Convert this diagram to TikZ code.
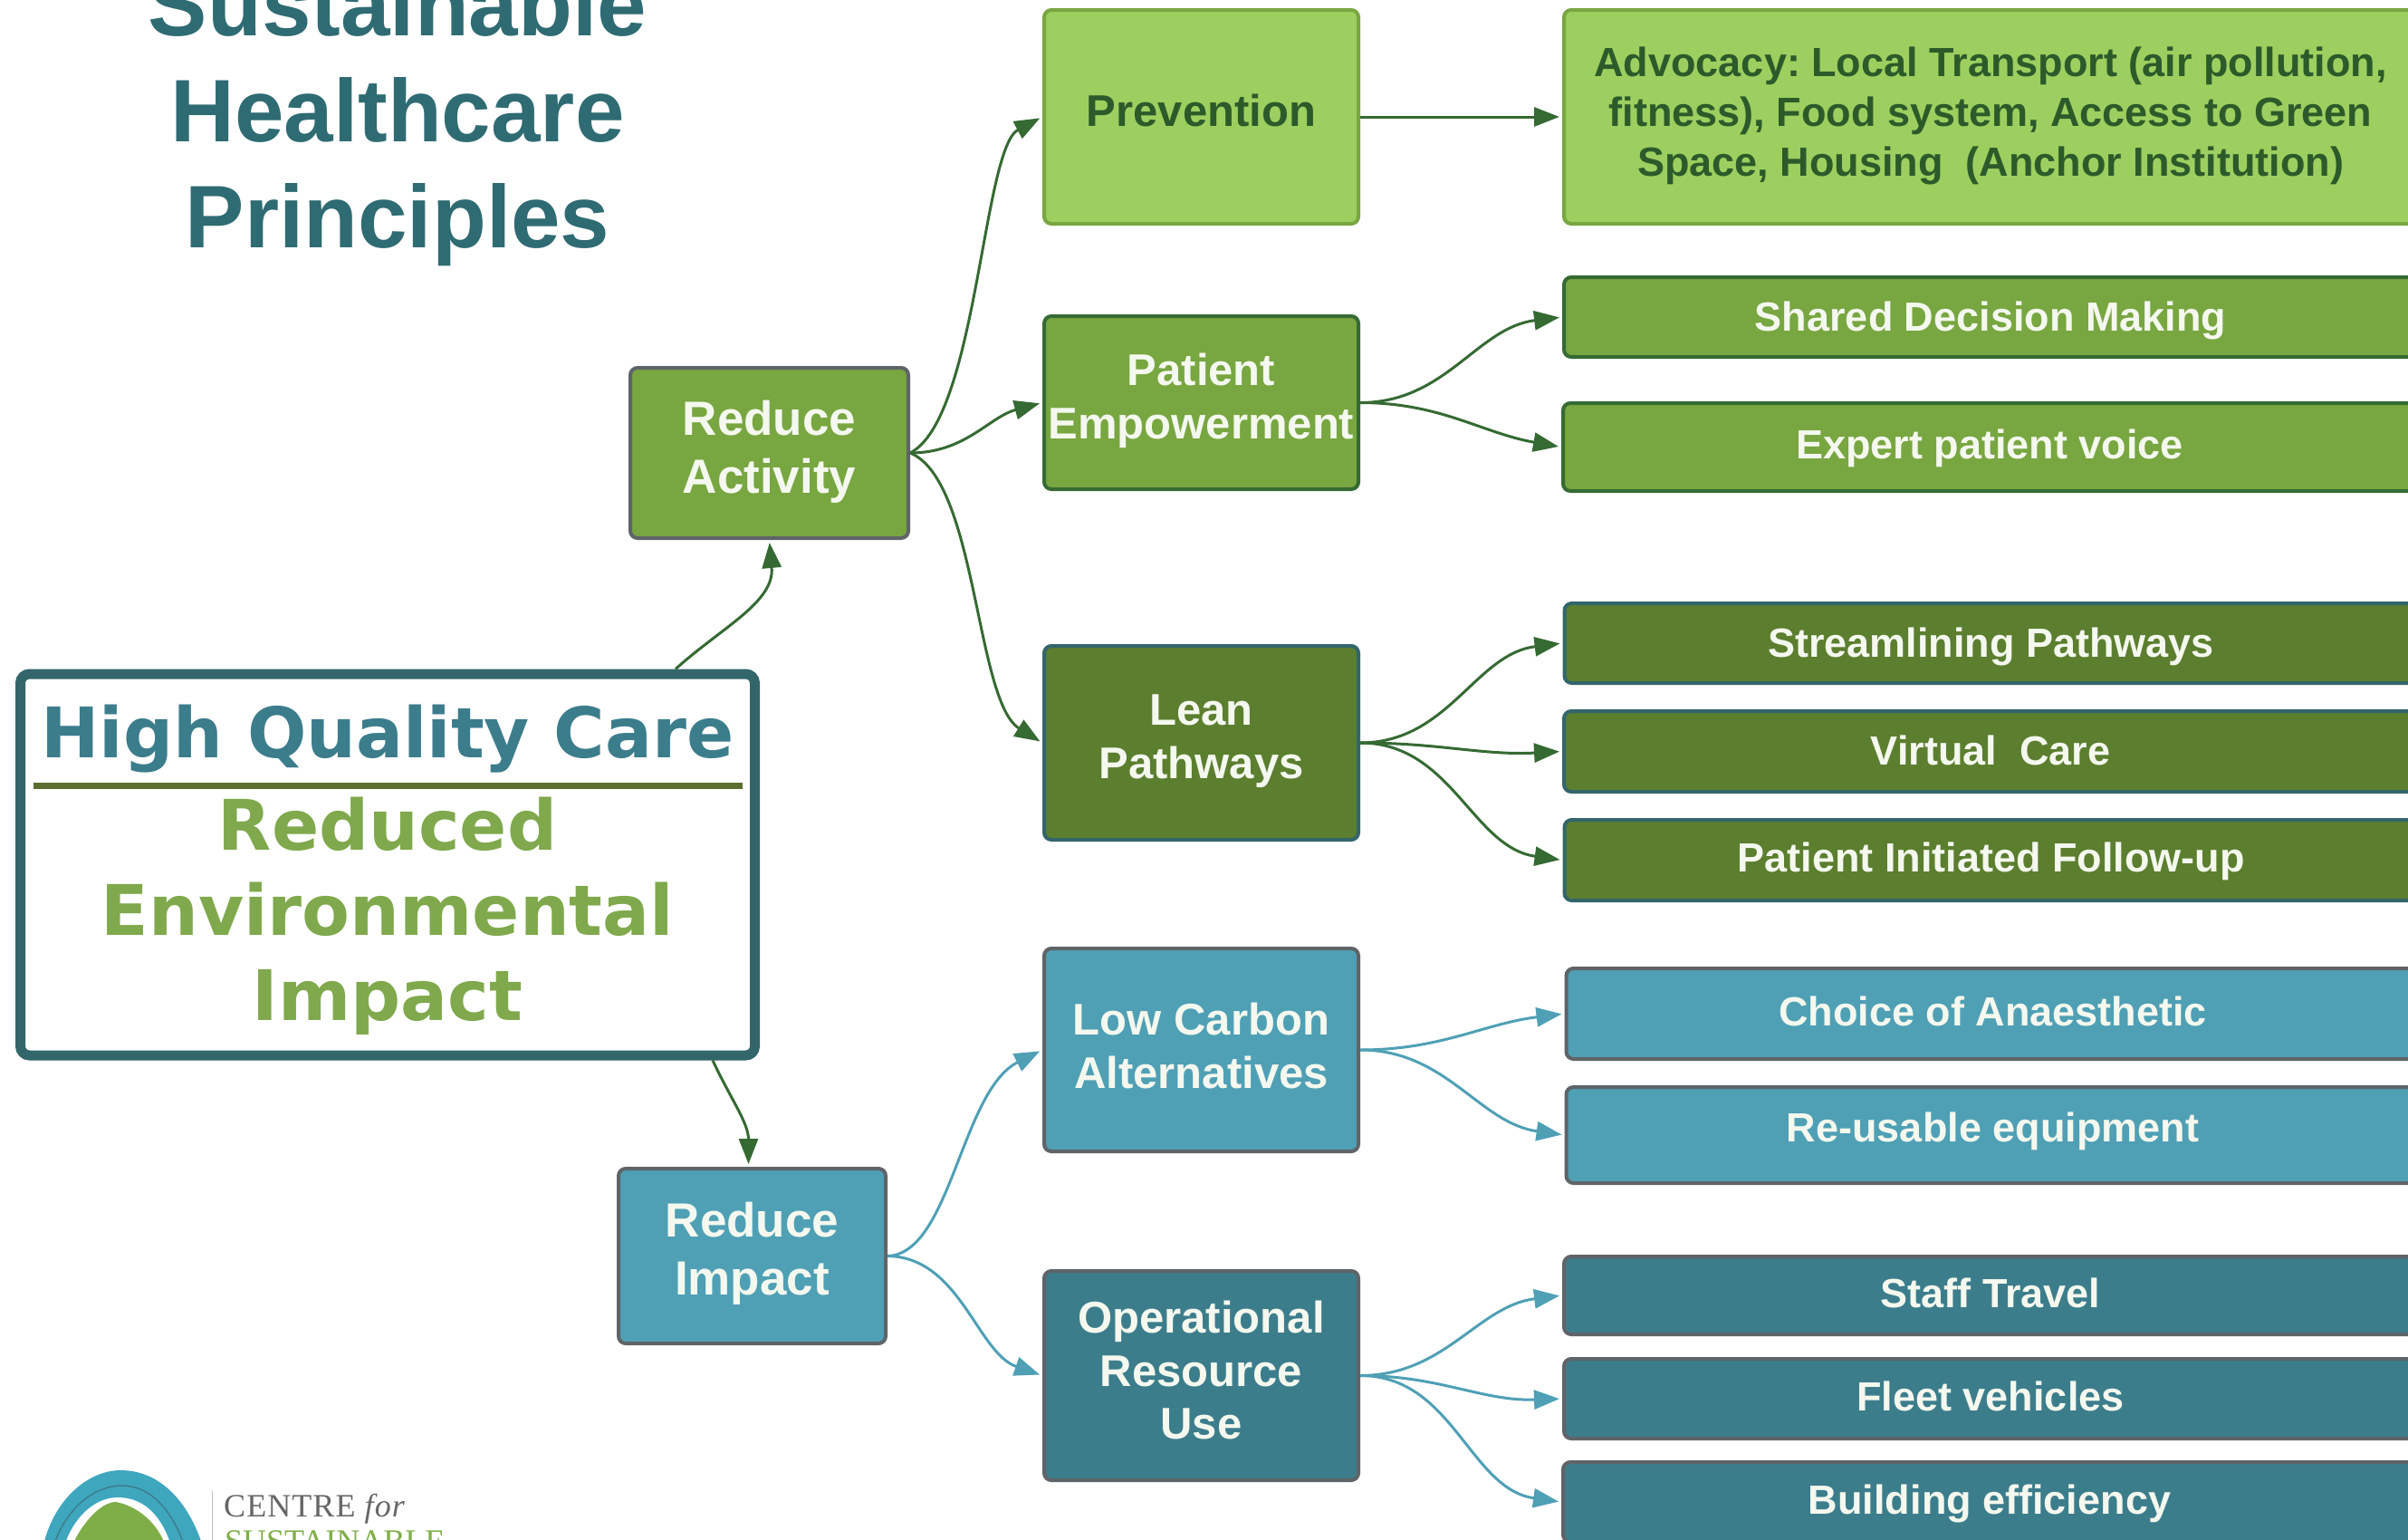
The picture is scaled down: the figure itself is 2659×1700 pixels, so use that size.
\documentclass[tikz,border=0pt]{standalone}
\usepackage{fontspec}
\setmainfont{Liberation Sans}
\newfontfamily\hqfont{DejaVu Sans}
\newfontfamily\logofont{Liberation Serif}
\usetikzlibrary{arrows.meta}
\definecolor{titleteal}{HTML}{2F6B73}
\definecolor{frameteal}{HTML}{33666B}
\definecolor{leafdark}{HTML}{2C5A2A}
\definecolor{linegreen}{HTML}{356A33}
\definecolor{lightgreen}{HTML}{9CCF5F}
\definecolor{midgreen}{HTML}{78A640}
\definecolor{hqgreen}{HTML}{7FA94C}
\definecolor{rulegreen}{HTML}{5A6E2E}
\definecolor{darkgreen}{HTML}{5C7E2F}
\definecolor{lightblue}{HTML}{4FA0B5}
\definecolor{darkblue}{HTML}{3C7D8C}
\definecolor{softwhite}{HTML}{F4F8EE}
\definecolor{greyline}{HTML}{5F6468}
\definecolor{logoteal}{HTML}{3FA7BD}
\definecolor{logogreen}{HTML}{7FAE48}
\tikzstyle{box} = [rectangle, rounded corners=8pt, line width=4pt, inner sep=0pt, align=center, text=softwhite, font=\frenchspacing\bfseries\fontsize{49}{58.5}\selectfont]
\tikzstyle{parent} = [box, font=\bfseries\fontsize{53}{64}\selectfont, draw=greyline]
\tikzstyle{level} = [box, minimum width=347pt]
\tikzstyle{leaf} = [box, minimum width=942pt, font=\frenchspacing\bfseries\fontsize{45}{55}\selectfont]
\tikzstyle{arrow} = [line width=3pt, linegreen, ->, >={Triangle[length=28pt, width=21pt]}, shorten >=3pt]
\tikzstyle{bluearrow} = [arrow, lightblue]
\newcommand{\padbottom}[1]{\rule[-#1pt]{0pt}{1pt}}
\newcommand{\padtop}[1]{\rule{0pt}{#1pt}}
\begin{document}
\begin{tikzpicture}[x=1pt, y=-1pt, node distance=0pt]
		\useasboundingbox (0,0) rectangle (2659,1700);
		% logo
		\fill [logoteal] (47,1710) .. controls (58,1655) and (98,1623) .. (133,1623) .. controls (175,1623) and (208,1655) .. (225,1710);
		\draw [darkblue, line width=1.5pt] (58,1710) .. controls (70,1670) and (100,1640) .. (135,1640) .. controls (165,1640) and (190,1665) .. (205,1710);
		\fill [white] (70,1710) .. controls (80,1675) and (105,1653) .. (130,1653) .. controls (160,1653) and (180,1675) .. (190,1710);
		\fill [logogreen] (78,1710) .. controls (88,1685) and (110,1658) .. (128,1658) .. controls (150,1662) and (175,1680) .. (184,1710);
		\node (logoline) [minimum width=1pt, minimum height=60pt, inner sep=0pt, fill=black!25] at (234,1675) {};
		\node (centre) [right of=logoline, xshift=13pt, yshift=9pt, anchor=west, inner sep=0pt, text=black!60, font=\logofont\fontsize{36}{36}\selectfont] {\addfontfeatures{LetterSpace=3}CENTRE \textit{for}};
		\node (sustainable) [right of=logoline, xshift=14pt, yshift=-27pt, anchor=west, inner sep=0pt, text=logogreen, font=\logofont\fontsize{36}{36}\selectfont] {SUSTAINABLE};

		\node (hq) [rectangle, rounded corners=10pt, line width=11pt, draw=frameteal, minimum width=811pt, minimum height=421pt, inner sep=0pt, align=center, font=\hqfont\bfseries\fontsize{77}{94}\selectfont] at (428,954.5) {
			\padtop{70}\textcolor{darkblue}{High Quality Care}\\[8pt]
			\textcolor{hqgreen}{Reduced}\\
			\textcolor{hqgreen}{Environmental}\\
			\textcolor{hqgreen}{Impact}
		};
		\coordinate (rulel) at ([xshift=-391pt, yshift=87pt]hq.center);
		\coordinate (ruler) at ([xshift=392pt, yshift=87pt]hq.center);
		\draw [line width=7pt, rulegreen] (rulel) -- (ruler);

		\node (title) [above of=hq, xshift=11pt, yshift=823pt, align=center, inner sep=0pt, text=titleteal, font=\bfseries\fontsize{98}{117}\selectfont] {
			Sustainable\\
			Healthcare\\
			Principles
		};

		\node (activity) [parent, fill=midgreen, minimum width=307pt, minimum height=188pt, right of=hq, xshift=421.5pt, yshift=454.5pt] {
			Reduce\\
			Activity\padbottom{14}
		};
		\node (impact) [parent, fill=lightblue, minimum width=295pt, minimum height=193pt, right of=hq, xshift=402.5pt, yshift=-432pt] {
			Reduce\\
			Impact\padbottom{17}
		};

		\node (prevention) [level, fill=lightgreen, draw=midgreen, text=leafdark, minimum height=236pt, right of=activity, xshift=477pt, yshift=371pt] {Prevention\padbottom{14}};
		\node (empowerment) [level, fill=midgreen, draw=linegreen, minimum height=191pt, below of=prevention, yshift=-315.5pt] {
			Patient\\
			Empowerment\padbottom{15}
		};
		\node (lean) [level, fill=darkgreen, draw=frameteal, minimum height=214pt, below of=empowerment, yshift=-375.5pt] {
			Lean\\
			Pathways\padbottom{14}
		};
		\node (lowcarbon) [level, fill=lightblue, draw=greyline, minimum height=224pt, below of=lean, yshift=-339pt] {
			Low Carbon\\
			Alternatives\padbottom{10}
		};
		\node (operational) [level, fill=darkblue, draw=greyline, minimum height=231pt, below of=lowcarbon, yshift=-359.5pt] {
			Operational\\
			Resource\\
			Use\padbottom{12}
		};

		\node (advocacy) [leaf, fill=lightgreen, draw=midgreen, text=leafdark, minimum height=236pt, right of=prevention, xshift=871.5pt] {
			Advocacy: Local Transport (air pollution,\\
			fitness), Food system, Access to Green\\
			Space, Housing\ \ (Anchor Institution)\padbottom{12}
		};
		\node (shared) [leaf, fill=midgreen, draw=linegreen, minimum height=88pt, right of=empowerment, xshift=871.5pt, yshift=94.5pt] {\padtop{40}Shared Decision Making};
		\node (expert) [leaf, fill=midgreen, draw=linegreen, minimum height=97pt, right of=empowerment, xshift=870.5pt, yshift=-49pt] {\padtop{36}Expert patient voice};
		\node (streamlining) [leaf, fill=darkgreen, draw=frameteal, minimum height=88pt, right of=lean, xshift=872pt, yshift=110pt] {\padtop{40}Streamlining Pathways};
		\node (virtual) [leaf, fill=darkgreen, draw=frameteal, minimum height=89pt, right of=lean, xshift=871.5pt, yshift=-9.5pt] {Virtual\ \ Care\padbottom{3}};
		\node (followup) [leaf, fill=darkgreen, draw=frameteal, minimum height=89pt, right of=lean, xshift=872pt, yshift=-129.5pt] {\padtop{36}Patient Initiated Follow-up};
		\node (anaesthetic) [leaf, fill=lightblue, draw=greyline, minimum height=100pt, right of=lowcarbon, xshift=874pt, yshift=40pt] {Choice of Anaesthetic\padbottom{6}};
		\node (reusable) [leaf, fill=lightblue, draw=greyline, minimum height=106pt, right of=lowcarbon, xshift=874pt, yshift=-94pt] {Re-usable equipment\padbottom{17}};
		\node (staff) [leaf, fill=darkblue, draw=greyline, minimum height=86pt, right of=operational, xshift=871.5pt, yshift=88.5pt] {Staff Travel\padbottom{6}};
		\node (fleet) [leaf, fill=darkblue, draw=greyline, minimum height=88pt, right of=operational, xshift=871.5pt, yshift=-25.5pt] {Fleet vehicles\padbottom{6}};
		\node (building) [leaf, fill=darkblue, draw=greyline, minimum height=88pt, right of=operational, xshift=870.5pt, yshift=-139.5pt] {\padtop{36}Building efficiency};

		\draw [arrow] ([xshift=318pt]hq.north) to[out=42, in=-85] (activity.south);
		\draw [arrow] ([xshift=359pt]hq.south) to[out=-65, in=90] ([xshift=-4pt]impact.north);
		\draw [arrow] (activity.east) .. controls +(74,-38) and +(-66,35) .. (prevention.west);
		\draw [arrow] (activity.east) to[out=0, in=195] (empowerment.west);
		\draw [arrow] (activity.east) .. controls +(74,30) and +(-74,-46) .. (lean.west);
		\draw [arrow] (prevention.east) -- (advocacy.west |- prevention.east);
		\draw [arrow] (empowerment.east) to[out=0, in=187] (shared.west);
		\draw [arrow] (empowerment.east) to[out=0, in=170] (expert.west);
		\draw [arrow] (lean.east) to[out=0, in=187] (streamlining.west);
		\draw [arrow] (lean.east) to[out=0, in=183] (virtual.west);
		\draw [arrow] (lean.east) to[out=0, in=172] (followup.west);
		\draw [bluearrow] (impact.east) .. controls +(70,-2) and +(-90,45) .. (lowcarbon.west);
		\draw [bluearrow] (impact.east) .. controls +(80,1) and +(-72,-25) .. (operational.west);
		\draw [bluearrow] (lowcarbon.east) to[out=0, in=187] (anaesthetic.west);
		\draw [bluearrow] (lowcarbon.east) to[out=0, in=172] (reusable.west);
		\draw [bluearrow] (operational.east) to[out=0, in=187] (staff.west);
		\draw [bluearrow] (operational.east) to[out=0, in=182] (fleet.west);
		\draw [bluearrow] (operational.east) to[out=0, in=172] (building.west);
	\end{tikzpicture}
\end{document}
